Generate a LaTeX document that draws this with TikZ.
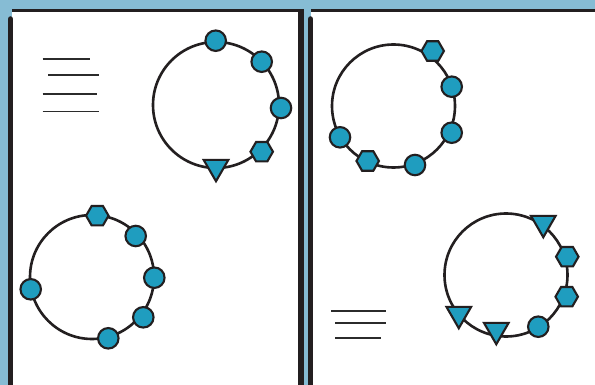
\documentclass[tikz,border=0pt]{standalone}
\usetikzlibrary{shapes.geometric}
\definecolor{bgblue}{HTML}{86BCD4}
\definecolor{dotblue}{HTML}{1F9DBF}
\definecolor{ink}{HTML}{231F20}
\definecolor{rule}{HTML}{2B2B2B}
\tikzset{
  ring/.style={draw=ink, line width=2.6pt},
  dot/.style={circle, draw=ink, fill=dotblue, line width=2.1pt, minimum size=20.5pt, inner sep=0pt},
  hexa/.style={regular polygon, regular polygon sides=6, draw=ink, fill=dotblue, line width=2.1pt, minimum size=22.5pt, inner sep=0pt},
  tri/.style={regular polygon, regular polygon sides=3, shape border rotate=180, draw=ink, fill=dotblue, line width=2.1pt, minimum size=28.5pt, inner sep=0pt},
  textline/.style={draw=rule, line width=1.9pt},
  topedge/.style={draw=ink, line width=3pt},
  sideedge/.style={draw=ink, line width=5.5pt}
}
\begin{document}
\begin{tikzpicture}[x=1pt,y=-1pt]
\useasboundingbox (0,0) rectangle (595,385);
\clip (0,0) rectangle (595,385);
\fill[bgblue] (0,0) rectangle (595,385);
% panels
\fill[white] (12,11) rectangle (300,395);
\fill[white] (311,11) rectangle (600,395);
\draw[topedge] (12,10.5) -- (304,10.5);
\draw[topedge] (311,10.5) -- (600,10.5);
\draw[sideedge, line cap=round] (10.6,19) -- (10.6,400);
\draw[sideedge, line width=6pt] (301,9) -- (301,400);
\draw[sideedge, line cap=round] (310.5,19) -- (310.5,400);
% text lines top-left
\draw[textline] (42.5,59) -- (90,59);
\draw[textline] (48,75) -- (98.5,75);
\draw[textline] (42.5,94) -- (96.5,94);
\draw[textline] (42.5,111.5) -- (98.5,111.5);
% text lines bottom-right
\draw[textline] (331,310.7) -- (385.5,310.7);
\draw[textline] (335,323.3) -- (385.5,323.3);
\draw[textline] (335,337.7) -- (380.5,337.7);
% ring top-left
\draw[ring] (216,105) circle[radius=63];
\node[dot] (tl1) at (215.7,40.7) {};
\node[dot] (tl2) at (261.7,61.7) {};
\node[dot] (tl3) at (281,108) {};
\node[hexa] (tl4) at (261.7,151.7) {};
\node[tri] (tl5) at (216,167) {};
% ring bottom-left
\draw[ring] (92,277) circle[radius=62];
\node[hexa] (bl1) at (97.3,215.7) {};
\node[dot] (bl2) at (135.7,236) {};
\node[dot] (bl3) at (154.3,277.7) {};
\node[dot] (bl4) at (143.3,317.3) {};
\node[dot] (bl5) at (108.3,338.3) {};
\node[dot] (bl6) at (30.7,289.3) {};
% ring top-right
\draw[ring] (393.5,106) circle[radius=61.5];
\node[hexa] (tr1) at (432.7,51) {};
\node[dot] (tr2) at (451.7,86.7) {};
\node[dot] (tr3) at (451.7,132.7) {};
\node[dot] (tr4) at (415,165) {};
\node[hexa] (tr5) at (367.7,161) {};
\node[dot] (tr6) at (340,137.3) {};
% ring bottom-right
\draw[ring] (506,275) circle[radius=61.5];
\node[tri] (br1) at (543.3,223) {};
\node[hexa] (br2) at (567.3,256.7) {};
\node[hexa] (br3) at (566.7,296.7) {};
\node[dot] (br4) at (538.3,326.7) {};
\node[tri] (br5) at (496.3,330) {};
\node[tri] (br6) at (458.8,314) {};
\end{tikzpicture}
\end{document}
